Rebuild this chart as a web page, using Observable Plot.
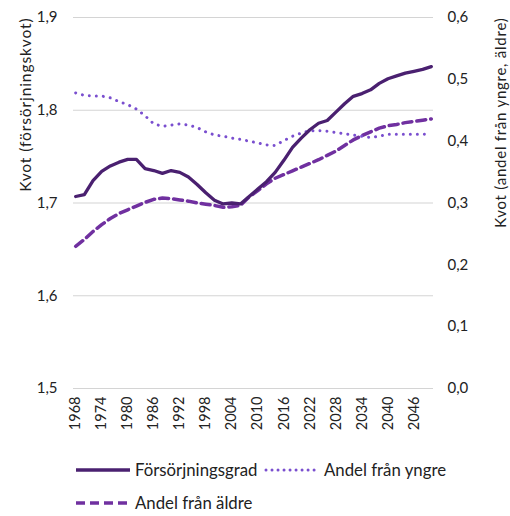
<!DOCTYPE html>
<html>
<head>
<meta charset="utf-8">
<script src="https://cdn.jsdelivr.net/npm/d3@7"></script>
<script src="https://cdn.jsdelivr.net/npm/@observablehq/plot@0.6"></script>
<style>
  body { margin: 0; background: #fff; font-family: Lato, "Open Sans", sans-serif; }
  #wrap { position: relative; width: 510px; height: 516px; }
  .leg { position: absolute; font-size: 16.8px; line-height: 20px; color: #222; white-space: nowrap; }
  .sw { position: absolute; }
</style>
</head>
<body>
<div id="wrap"></div>
<script>
const years = [1968,1970,1972,1974,1976,1978,1980,1982,1984,1986,1988,1990,1992,1994,1996,1998,2000,2002,2004,2006,2008,2010,2012,2014,2016,2018,2020,2022,2024,2026,2028,2030,2032,2034,2036,2038,2040,2042,2044,2046,2048,2050];
const forsorjningsgrad = [1.707,1.709,1.724,1.734,1.740,1.744,1.747,1.747,1.737,1.735,1.732,1.735,1.733,1.728,1.720,1.711,1.703,1.699,1.700,1.699,1.707,1.715,1.723,1.733,1.746,1.760,1.770,1.779,1.786,1.789,1.798,1.807,1.815,1.818,1.822,1.829,1.834,1.837,1.840,1.842,1.844,1.847];
const andelYngre = [0.478,0.474,0.473,0.473,0.470,0.464,0.459,0.452,0.441,0.428,0.424,0.426,0.428,0.426,0.422,0.415,0.410,0.408,0.405,0.403,0.400,0.397,0.394,0.393,0.401,0.408,0.413,0.417,0.417,0.416,0.414,0.412,0.410,0.408,0.406,0.408,0.411,0.411,0.411,0.411,0.411,0.412];
const andelAldre = [0.230,0.241,0.254,0.265,0.275,0.283,0.289,0.295,0.301,0.306,0.308,0.307,0.305,0.303,0.300,0.298,0.296,0.293,0.294,0.296,0.310,0.320,0.331,0.340,0.346,0.352,0.358,0.364,0.370,0.377,0.384,0.393,0.402,0.409,0.415,0.421,0.425,0.427,0.430,0.432,0.434,0.436];
const xTicks = [1968,1974,1980,1986,1992,1998,2004,2010,2016,2022,2028,2034,2040,2046];
const leftTicks = [1.5,1.6,1.7,1.8,1.9];
const rightTicks = [0.0,0.1,0.2,0.3,0.4,0.5,0.6];
const leftTitle = "Kvot (försörjningskvot)";
const rightTitle = "Kvot (andel från yngre, äldre)";
const seriesNames = ["Försörjningsgrad","Andel från yngre","Andel från äldre"];
const colors = ["#4a2070","#7a4fcf","#7030a0"];

// right axis maps 0..0.6 onto left 1.5..1.9
const toLeft = v => 1.5 + v / 1.5;

const solid = years.map((y,i) => ({year:y, v:forsorjningsgrad[i]}));
const dotted = years.map((y,i) => ({year:y, v:toLeft(andelYngre[i])}));
const dashed = years.map((y,i) => ({year:y, v:toLeft(andelAldre[i])}));

const fmt = d3.format(".1f");
const comma = v => fmt(v).replace(".", ",");

const chart = Plot.plot({
  width: 510,
  height: 440,
  marginLeft: 73,
  marginRight: 77,
  marginTop: 17,
  marginBottom: 52,
  style: {fontFamily: "Lato, 'Open Sans', sans-serif", fontSize: "15px", color: "#222", background: "#fff"},
  x: {domain: [1967.5, 2050.5]},
  y: {domain: [1.5, 1.9]},
  marks: [
    Plot.gridY(leftTicks, {stroke: "#d4d4d4", strokeOpacity: 1, strokeWidth: 1.2}),
    Plot.axisY(leftTicks, {anchor: "left", tickSize: 0, tickPadding: 16, tickFormat: comma, label: null, fontSize: 15}),
    Plot.axisY(rightTicks.map(toLeft), {anchor: "right", tickSize: 0, tickPadding: 14, tickFormat: (d,i) => comma(rightTicks[i]), label: null, fontSize: 15}),
    Plot.axisX(xTicks, {tickSize: 0, tickPadding: 8, tickRotate: -90, tickFormat: d => String(d), label: null, fontSize: 14.5}),
    Plot.text([leftTitle], {frameAnchor: "top-left", dx: -54, rotate: -90, textAnchor: "end", fontSize: 15.5, fill: "#222"}),
    Plot.text([rightTitle], {frameAnchor: "top-right", dx: 62, rotate: -90, textAnchor: "end", fontSize: 15, fill: "#222"}),
    Plot.line(dashed, {x: "year", y: "v", stroke: colors[2], strokeWidth: 3.5, strokeDasharray: "9 5"}),
    Plot.line(dotted, {x: "year", y: "v", stroke: colors[1], strokeWidth: 3, strokeDasharray: "0.01 7", strokeLinecap: "round"}),
    Plot.line(solid, {x: "year", y: "v", stroke: colors[0], strokeWidth: 3.3})
  ]
});
d3.select(chart).selectAll("text").each(function() {
  const t = this.textContent;
  if (t === leftTitle) this.style.letterSpacing = "0.9px";
  if (t === rightTitle) this.style.letterSpacing = "0.75px";
});
const wrap = document.getElementById("wrap");
wrap.appendChild(chart);

function swatch(left, cy, w, color, dash, cap, sw) {
  const s = document.createElement("div");
  s.className = "sw";
  s.style.left = left + "px";
  s.style.top = (cy - 5) + "px";
  s.innerHTML = `<svg width="${w}" height="10" style="display:block"><line x1="2" y1="5" x2="${w-2}" y2="5" stroke="${color}" stroke-width="${sw}" ${dash ? `stroke-dasharray="${dash}"` : ""} stroke-linecap="${cap}"/></svg>`;
  wrap.appendChild(s);
}
function label(left, cy, text) {
  const d = document.createElement("div");
  d.className = "leg";
  d.style.left = left + "px";
  d.style.top = (cy - 10) + "px";
  d.textContent = text;
  wrap.appendChild(d);
}
swatch(74, 470, 58, colors[0], null, "butt", 3.5);
label(135, 470, seriesNames[0]);
swatch(264, 470, 54, colors[1], "0.01 6", "round", 3);
label(324, 470, seriesNames[1]);
swatch(74, 503, 58, colors[2], "9 5", "butt", 3.5);
label(135, 503, seriesNames[2]);
</script>
</body>
</html>
